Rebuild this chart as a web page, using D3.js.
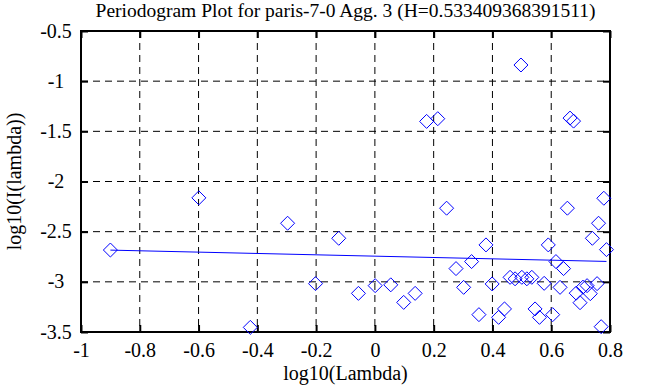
<!DOCTYPE html>
<html>
<head>
<meta charset="utf-8">
<script src="https://cdn.jsdelivr.net/npm/d3@7"></script>
<style>
  body { margin: 0; background: #fff; }
  svg text { font-family: "Liberation Serif", "Times New Roman", serif; fill: #000; }
</style>
</head>
<body>
<svg id="chart"></svg>
<script>
// log10 of frequency and periodogram value for each point
const logLambda = [
  -0.900, -0.599, -0.424, -0.297, -0.202, -0.123, -0.056, 0.001, 0.054, 0.098,
  0.137, 0.176, 0.214, 0.244, 0.276, 0.302, 0.329, 0.354, 0.378, 0.399,
  0.421, 0.441, 0.460, 0.477, 0.497, 0.500, 0.517, 0.534, 0.545, 0.560,
  0.576, 0.590, 0.605, 0.616, 0.630, 0.642, 0.655, 0.664, 0.676, 0.685,
  0.698, 0.708, 0.722, 0.733, 0.740, 0.756, 0.761, 0.770, 0.779, 0.788
];
const logPeriodogram = [
  -2.683, -2.163, -3.454, -2.416, -3.018, -2.566, -3.115, -3.038, -3.030, -3.205,
  -3.115, -1.401, -1.374, -2.266, -2.868, -3.055, -2.798, -3.327, -2.632, -3.021,
  -3.354, -3.270, -2.955, -2.970, -0.839, -2.955, -2.970, -2.955, -3.270, -3.354,
  -3.015, -2.632, -3.327, -2.798, -3.055, -2.868, -2.266, -1.368, -1.398, -3.113,
  -3.208, -3.053, -3.038, -3.118, -2.566, -3.018, -2.416, -3.447, -2.167, -2.679
];
const hurst = 0.533409368391511;
const fitSlope = 1 - 2 * hurst;
const fitIntercept = -2.744;

const xTicks = [-1, -0.8, -0.6, -0.4, -0.2, 0, 0.2, 0.4, 0.6, 0.8];
const yTicks = [-0.5, -1, -1.5, -2, -2.5, -3, -3.5];

const w = 647;
const h = 387;
const margin = { top: 31, right: 37, bottom: 55, left: 81 };
const fontFamily = '"Liberation Serif", "Times New Roman", serif';

const svg = d3.select('#chart')
  .attr('width', w)
  .attr('height', h);

const x = d3.scaleLinear().domain([-1, 0.8]).range([margin.left, w - margin.right]);
const y = d3.scaleLinear().domain([-3.5, -0.5]).range([h - margin.bottom, margin.top]);

// dashed grid
svg.append('g')
  .selectAll('line')
  .data(xTicks.slice(1, -1))
  .join('line')
  .attr('x1', d => x(d)).attr('x2', d => x(d))
  .attr('y1', y(-0.5)).attr('y2', y(-3.5))
  .attr('stroke', '#000')
  .attr('stroke-dasharray', '7,5');

svg.append('g')
  .selectAll('line')
  .data(yTicks.slice(1, -1))
  .join('line')
  .attr('y1', d => y(d)).attr('y2', d => y(d))
  .attr('x1', x(-1)).attr('x2', x(0.8))
  .attr('stroke', '#000')
  .attr('stroke-dasharray', '7,5');

// axes, ticks pointing inward
const tickLen = 7;
const fmt = d => String(d);
const bottomAxis = d3.axisBottom(x).tickValues(xTicks).tickSize(tickLen).tickSizeOuter(0).tickFormat(fmt);
const topAxis = d3.axisTop(x).tickValues(xTicks).tickSize(-tickLen).tickSizeOuter(0).tickFormat('');
const leftAxis = d3.axisLeft(y).tickValues(yTicks).tickSize(-tickLen).tickSizeOuter(0).tickFormat(fmt);
const rightAxis = d3.axisRight(y).tickValues(yTicks).tickSize(-tickLen).tickSizeOuter(0).tickFormat('');

const gb = svg.append('g').attr('transform', `translate(0, ${y(-3.5)})`).call(bottomAxis);
gb.selectAll('.tick line').attr('y2', -tickLen);
gb.selectAll('.tick text').attr('y', 25).attr('dy', 0);

svg.append('g').attr('transform', `translate(0, ${y(-0.5)})`).call(topAxis);

const gl = svg.append('g').attr('transform', `translate(${x(-1)}, 0)`).call(leftAxis);
gl.selectAll('.tick text').attr('x', -25).attr('dy', 6).attr('text-anchor', 'middle');

svg.append('g').attr('transform', `translate(${x(0.8)}, 0)`).call(rightAxis);

svg.selectAll('.domain').remove();
svg.selectAll('g').attr('font-family', fontFamily).attr('font-size', 20);
svg.selectAll('.tick line').attr('stroke', '#000').attr('stroke-width', 2);
svg.selectAll('.tick text').attr('fill', '#000').style('font-family', fontFamily);

// frame
svg.append('rect')
  .attr('x', x(-1)).attr('y', y(-0.5))
  .attr('width', x(0.8) - x(-1)).attr('height', y(-3.5) - y(-0.5))
  .attr('fill', 'none')
  .attr('stroke', '#000')
  .attr('stroke-width', 2);

// fitted line
const xMin = d3.min(logLambda);
const xMax = d3.max(logLambda);
svg.append('line')
  .attr('x1', x(xMin)).attr('y1', y(fitIntercept + fitSlope * xMin))
  .attr('x2', x(xMax)).attr('y2', y(fitIntercept + fitSlope * xMax))
  .attr('stroke', '#0000ff')
  .attr('stroke-width', 1);

// diamonds
const r = 7;
svg.append('g')
  .selectAll('path')
  .data(logLambda.map((d, i) => [d, logPeriodogram[i]]))
  .join('path')
  .attr('d', d => {
    const cx = x(d[0]), cy = y(d[1]);
    return `M${cx},${cy - r}L${cx + r},${cy}L${cx},${cy + r}L${cx - r},${cy}Z`;
  })
  .attr('fill', 'none')
  .attr('stroke', '#0000ff')
  .attr('stroke-width', 1);

// labels
svg.append('text')
  .attr('x', (x(-1) + x(0.8)) / 2)
  .attr('y', 17)
  .attr('text-anchor', 'middle')
  .style('font-size', '19.5px')
  .text('Periodogram Plot for paris-7-0 Agg. 3 (H=0.533409368391511)');

svg.append('text')
  .attr('x', (x(-1) + x(0.8)) / 2)
  .attr('y', 380)
  .attr('text-anchor', 'middle')
  .style('font-size', '20px')
  .text('log10(Lambda)');

svg.append('text')
  .attr('transform', `translate(21, ${(y(-0.5) + y(-3.5)) / 2}) rotate(-90)`)
  .attr('text-anchor', 'middle')
  .style('font-size', '20px')
  .text('log10(I(lambda))');
</script>
</body>
</html>
